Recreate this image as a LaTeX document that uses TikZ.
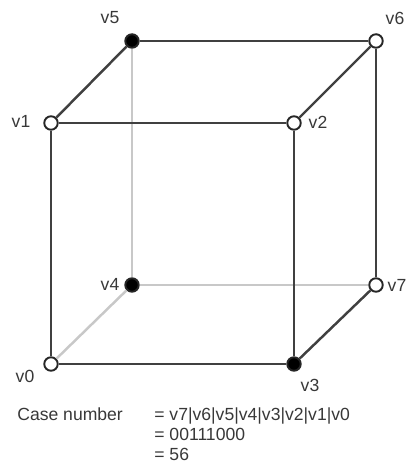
\documentclass[tikz,border=0pt]{standalone}
\usepackage{fontspec}
\setmainfont{Liberation Sans}
\usepackage{xcolor}
\usetikzlibrary{positioning}
\definecolor{edgedark}{HTML}{404040}
\definecolor{edgelight}{HTML}{C8C8C8}
\definecolor{labelgray}{HTML}{383838}
\tikzset{
  vertex/.style={circle, draw=black!85, line width=1.1pt, minimum size=0.27cm, inner sep=0pt},
  vempty/.style={vertex, fill=white},
  vfull/.style={vertex, fill=black},
  edge/.style={edgedark, line width=1.4pt},
  hidden/.style={edgelight, line width=1.4pt},
  vlabel/.style={text=labelgray, font=\fontsize{10}{12}\selectfont, inner sep=0pt},
}
\begin{document}
\begin{tikzpicture}
        \useasboundingbox (0,0) rectangle (8.12,9.28);
        % Vertices
        \node[vempty] (v0) at (1.02,2.00) {};
        \node[vempty] (v1) at (1.02,6.82) {};
        \node[vempty] (v2) at (5.88,6.82) {};
        \node[vfull]  (v3) at (5.88,2.00) {};
        \node[vfull]  (v4) at (2.64,3.58) {};
        \node[vfull]  (v5) at (2.64,8.46) {};
        \node[vempty] (v6) at (7.52,8.46) {};
        \node[vempty] (v7) at (7.52,3.58) {};
        % Hidden edges
        \draw[hidden] (v0) -- (v4);
        \draw[hidden] (v4) -- (v5);
        \draw[hidden] (v4) -- (v7);
        % Front and top edges
        \draw[edge] (v0) -- (v1);
        \draw[edge] (v1) -- (v2);
        \draw[edge] (v2) -- (v3);
        \draw[edge] (v3) -- (v0);
        \draw[edge] (v1) -- (v5);
        \draw[edge] (v5) -- (v6);
        \draw[edge] (v6) -- (v2);
        \draw[edge] (v6) -- (v7);
        \draw[edge] (v7) -- (v3);
        % Vertex labels
        \node[vlabel] (l0) at (0.5,1.76) {v0};
        \node[vlabel] (l1) at (0.42,6.86) {v1};
        \node[vlabel] (l2) at (6.36,6.84) {v2};
        \node[vlabel] (l3) at (6.2,1.58) {v3};
        \node[vlabel] (l4) at (2.2,3.6) {v4};
        \node[vlabel] (l5) at (2.2,8.92) {v5};
        \node[vlabel] (l6) at (7.9,8.92) {v6};
        \node[vlabel] (l7) at (7.94,3.58) {v7};
        % Case number
        \node[vlabel, anchor=base west] (casename) at (0.34,0.86) {Case number};
        \node[vlabel, anchor=base west] (caseline1) at (3.08,0.86) {= v7|v6|v5|v4|v3|v2|v1|v0};
        \node[vlabel, anchor=base west] (caseline2) at (3.08,0.46) {= 00111000};
        \node[vlabel, anchor=base west] (caseline3) at (3.08,0.06) {= 56};
    \end{tikzpicture}
\end{document}
